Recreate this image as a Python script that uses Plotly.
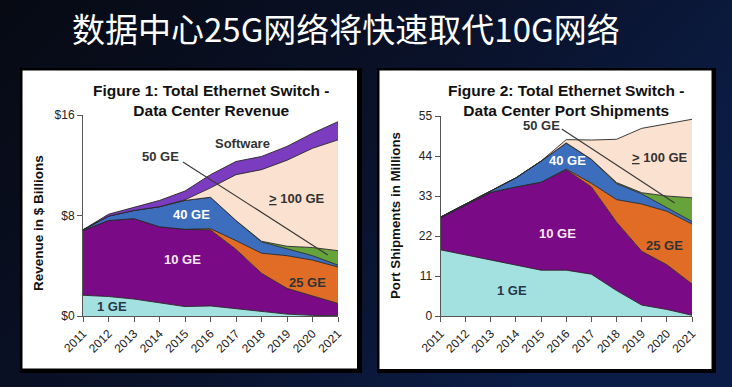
import base64
import plotly.graph_objects as go

# ---------------- data ----------------
years = list(range(2011, 2022))
year_labels = [str(y) for y in years]

# Figure 1: revenue ($ billions), stacked bottom -> top
rev_1ge = [1.65, 1.55, 1.35, 1.05, 0.75, 0.80, 0.60, 0.35, 0.15, 0.05, 0.02]
rev_10ge = [5.15, 6.05, 6.40, 6.05, 6.15, 6.05, 4.70, 3.05, 2.05, 1.55, 0.98]
rev_25ge = [0, 0, 0, 0, 0, 0.10, 0.70, 1.60, 2.60, 2.85, 2.90]
rev_40ge = [0.05, 0.35, 0.65, 1.60, 2.30, 2.50, 1.60, 0.90, 0.55, 0.35, 0.15]
rev_50ge = [0, 0, 0, 0, 0, 0, 0, 0.05, 0.20, 0.65, 1.15]
rev_100ge = [0, 0, 0, 0, 0.05, 0.75, 3.65, 5.70, 6.85, 7.90, 8.82]
rev_sw = [0.02, 0.15, 0.25, 0.50, 0.70, 1.05, 1.05, 1.05, 1.10, 1.20, 1.45]

# Figure 2: port shipments (millions)
port_1ge = [18.2, 16.8, 15.3, 13.8, 12.6, 12.6, 11.5, 7.0, 3.0, 1.8, 0.2]
port_10ge = [8.8, 13.7, 18.7, 21.7, 24.2, 27.6, 24.0, 18.8, 14.8, 12.3, 8.6]
port_25ge = [0, 0, 0, 0, 0, 0.2, 1.0, 6.2, 13.0, 14.7, 16.5]
port_40ge = [0.2, 0.3, 0.5, 2.5, 5.8, 7.1, 6.5, 4.4, 2.8, 1.0, 0.7]
port_50ge = [0, 0, 0, 0, 0, 0.1, 0.1, 0.3, 0.3, 3.2, 6.5]
port_100ge = [0, 0, 0, 0, 0, 0.9, 5.3, 11.9, 17.7, 19.9, 21.6]

rev_ticks = [0, 8, 16]
rev_tick_labels = ["$0", "$8", "$16"]
port_ticks = [0, 11, 22, 33, 44, 55]
port_tick_labels = ["0", "11", "22", "33", "44", "55"]

# ---------------- style ----------------
W, H = 732, 387
C = {
    "1ge": "#a3e1e1", "10ge": "#7a0a86", "25ge": "#e06c26", "40ge": "#3d6ebd",
    "50ge": "#67a33b", "100ge": "#fbe1cf", "sw": "#7b3cbf",
}
LINE = "#262626"
ARIAL = "Liberation Sans, Arial, sans-serif"


def px(x):
    return x / W


def py(y):
    return 1 - y / H


fig = go.Figure()

left_series = [("1 GE", rev_1ge, "1ge"), ("10 GE", rev_10ge, "10ge"), ("25 GE", rev_25ge, "25ge"),
               ("40 GE", rev_40ge, "40ge"), ("50 GE", rev_50ge, "50ge"), ("100 GE", rev_100ge, "100ge"),
               ("Software", rev_sw, "sw")]
for name, vals, key in left_series:
    fig.add_trace(go.Scatter(x=years, y=vals, name=name, stackgroup="L", mode="lines",
                             line=dict(color=LINE, width=0.9), fillcolor=C[key],
                             xaxis="x", yaxis="y", showlegend=False, hoverinfo="skip"))

right_series = [("1 GE", port_1ge, "1ge"), ("10 GE", port_10ge, "10ge"), ("25 GE", port_25ge, "25ge"),
                ("40 GE", port_40ge, "40ge"), ("50 GE", port_50ge, "50ge"), ("100 GE", port_100ge, "100ge")]
for name, vals, key in right_series:
    fig.add_trace(go.Scatter(x=years, y=vals, name=name, stackgroup="R", mode="lines",
                             line=dict(color=LINE, width=0.9), fillcolor=C[key],
                             xaxis="x2", yaxis="y2", showlegend=False, hoverinfo="skip"))

axis_common = dict(showline=True, linecolor="#555", linewidth=1, ticks="outside", tickcolor="#555",
                   ticklen=5, showgrid=False, zeroline=False, automargin=False,
                   tickfont=dict(family=ARIAL, size=12, color="#222"))

fig.update_layout(
    width=W, height=H, autosize=False, margin=dict(l=0, r=0, t=0, b=0, pad=0, autoexpand=False),
    paper_bgcolor="#0a1024", plot_bgcolor="rgba(0,0,0,0)",
    xaxis=dict(domain=[px(83), px(338)], range=[2011, 2021], tickvals=years, ticktext=year_labels,
               tickangle=-45, anchor="y", **axis_common),
    yaxis=dict(domain=[py(316), py(115)], range=[0, 16], tickvals=rev_ticks, ticktext=rev_tick_labels,
               anchor="x", **axis_common),
    xaxis2=dict(domain=[px(440.5), px(692)], range=[2011, 2021], tickvals=years, ticktext=year_labels,
                tickangle=-45, anchor="y2", **axis_common),
    yaxis2=dict(domain=[py(316), py(116)], range=[0, 55], tickvals=port_ticks, ticktext=port_tick_labels,
                anchor="x2", **axis_common),
)

# background gradient
svg = ('<svg xmlns="http://www.w3.org/2000/svg" width="732" height="387">'
       '<defs><linearGradient id="g" x1="0" y1="0" x2="1" y2="0.5">'
       '<stop offset="0" stop-color="#070a13"/><stop offset="0.55" stop-color="#0a122a"/>'
       '<stop offset="1" stop-color="#0b1d47"/></linearGradient></defs>'
       '<rect width="732" height="387" fill="url(#g)"/></svg>')
fig.add_layout_image(dict(source="data:image/svg+xml;base64," + base64.b64encode(svg.encode()).decode(),
                          xref="paper", yref="paper", x=0, y=1, sizex=1, sizey=1, sizing="stretch",
                          layer="below", xanchor="left", yanchor="top"))

# panels
for (x0, y0, x1, y1), (wx0, wy0, wx1, wy1) in [((20, 68, 362, 373), (22.5, 70.5, 357, 368.5)),
                                               ((377, 68, 716, 373), (379.5, 70.5, 711.5, 369))]:
    fig.add_shape(type="rect", xref="paper", yref="paper", x0=px(x0), x1=px(x1), y0=py(y1), y1=py(y0),
                  fillcolor="#000000", line=dict(width=0), layer="below")
    fig.add_shape(type="rect", xref="paper", yref="paper", x0=px(wx0), x1=px(wx1), y0=py(wy1), y1=py(wy0),
                  fillcolor="#ffffff", line=dict(width=0), layer="below")

# 50 GE pointer lines
fig.add_shape(type="line", xref="x", yref="y", x0=2014.92, y0=12.26, x1=2020.6, y1=4.86,
              line=dict(color="#3a3a3a", width=1.2))
fig.add_shape(type="line", xref="x2", yref="y2", x0=2015.82, y0=51.4, x1=2020.31, y1=31.1,
              line=dict(color="#3a3a3a", width=1.2))

# main title
fig.add_annotation(text="数据中心25G网络将快速取代10G网络", xref="paper", yref="paper",
                   x=px(70), y=py(28), xanchor="left", yanchor="middle", showarrow=False,
                   font=dict(family="Noto Sans CJK SC", size=33, color="#ffffff"))


def ann(text, x, y, size=13, color="#222", bold=True, xref="paper", yref="paper", angle=0):
    fig.add_annotation(text=f"<b>{text}</b>" if bold else text, x=x, y=y, xref=xref, yref=yref,
                       showarrow=False, textangle=angle, xanchor="center", yanchor="middle",
                       font=dict(family=ARIAL, size=size, color=color))


# chart titles
ann("Figure 1: Total Ethernet Switch -<br>Data Center Revenue", px(211.5), py(100.5), size=15.5, color="#111")
ann("Figure 2: Total Ethernet Switch -<br>Data Center Port Shipments", px(566.5), py(100.5), size=15.5,
    color="#111")

# y axis titles
ann("Revenue in $ Billions", px(38.5), py(223.5), size=13.5, color="#111", angle=-90)
ann("Port Shipments in Millions", px(395), py(216), size=13.3, color="#111", angle=-90)

UL = '<span style="text-decoration:underline">&gt;</span> 100 GE'

# left chart labels
ann("Software", 2017.27, 13.77, color="#333", xref="x", yref="y")
ann("50 GE", 2014.02, 12.66, color="#333", xref="x", yref="y")
ann(UL, 2019.39, 9.39, color="#333", xref="x", yref="y")
ann("40 GE", 2015.27, 8.04, color="#ffffff", xref="x", yref="y")
ann("10 GE", 2014.92, 4.46, color="#fbe8f8", xref="x", yref="y")
ann("25 GE", 2019.82, 2.70, color="#333", xref="x", yref="y")
ann("1 GE", 2012.14, 0.72, color="#24384a", xref="x", yref="y")

# right chart labels
ann("50 GE", 2015.03, 52.5, color="#333", xref="x2", yref="y2")
ann(UL, 2019.71, 43.7, color="#333", xref="x2", yref="y2")
ann("40 GE", 2016.06, 42.9, color="#ffffff", xref="x2", yref="y2")
ann("10 GE", 2015.66, 22.8, color="#fbe8f8", xref="x2", yref="y2")
ann("25 GE", 2019.91, 19.5, color="#333", xref="x2", yref="y2")
ann("1 GE", 2013.83, 7.15, color="#24384a", xref="x2", yref="y2")

fig.write_html(
    "out.html",
    config={"displayModeBar": False},
    post_script=("document.documentElement.style.margin='0';document.body.style.margin='0';"
                 "document.body.style.padding='0';document.documentElement.style.overflow='hidden';"
                 "document.body.style.overflow='hidden';document.body.style.background='#0a1024';"),
)
